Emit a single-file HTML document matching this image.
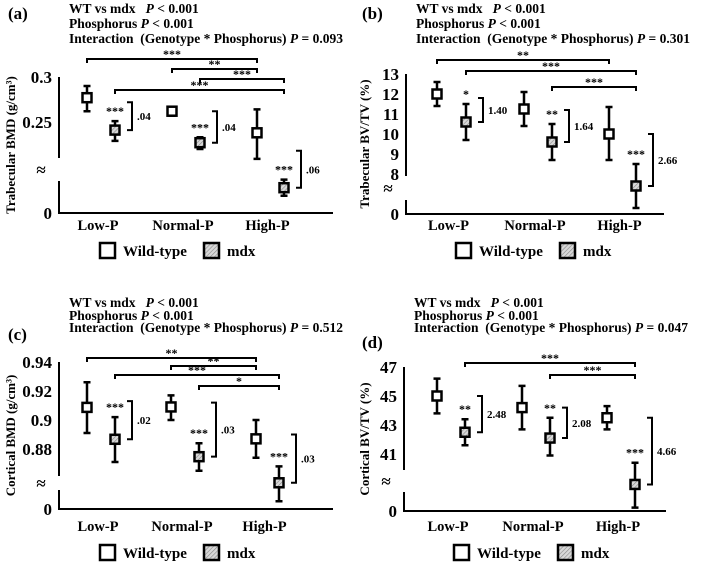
<!DOCTYPE html>
<html><head><meta charset="utf-8"><style>
html,body{margin:0;padding:0;background:#fff;}
svg{display:block;font-family:"Liberation Serif",serif;font-weight:bold;}
text{white-space:pre;}
</style></head><body>
<svg id="fig" width="708" height="565" viewBox="0 0 708 565" xmlns="http://www.w3.org/2000/svg" xml:space="preserve">
<defs>
<pattern id="hatch" patternUnits="userSpaceOnUse" width="3" height="3" patternTransform="rotate(45)">
<rect width="3" height="3" fill="#d8d8d8"/><line x1="0" y1="0" x2="0" y2="3" stroke="#888" stroke-width="1.2"/>
</pattern>
</defs>
</svg>
<script>
// ---- data arrays ----
const categories = ["Low-P","Normal-P","High-P"];
const panelLetters = ["(a)","(b)","(c)","(d)"];
const yTitles = ["Trabecular BMD (g/cm³)","Trabecular BV/TV (%)","Cortical BMD (g/cm³)","Cortical BV/TV (%)"];
const interactionP = ["0.093","0.301","0.512","0.047"];
const tickValuesA = [0.3,0.25]; const tickLabelsA = ["0.3","0.25"];
const tickValuesB = [13,12,11,10,9,8]; const tickLabelsB = ["13","12","11","10","9","8"];
const tickValuesC = [0.94,0.92,0.9,0.88]; const tickLabelsC = ["0.94","0.92","0.9","0.88"];
const tickValuesD = [47,45,43,41]; const tickLabelsD = ["47","45","43","41"];
const wtMeanA=[0.277,0.262,0.238], wtHiA=[0.290,0.267,0.264], wtLoA=[0.262,0.257,0.209];
const mdxMeanA=[0.241,0.227,0.177], mdxHiA=[0.251,0.233,0.186], mdxLoA=[0.229,0.220,0.168];
const wtMeanB=[12.0,11.25,10.0], wtHiB=[12.6,12.1,11.35], wtLoB=[11.4,10.4,8.7];
const mdxMeanB=[10.6,9.6,7.4], mdxHiB=[11.5,10.5,8.5], mdxLoB=[9.7,8.7,6.3];
const wtMeanC=[0.9087,0.909,0.887], wtHiC=[0.926,0.917,0.900], wtLoC=[0.891,0.900,0.874];
const mdxMeanC=[0.8867,0.8747,0.8567], mdxHiC=[0.902,0.884,0.868], mdxLoC=[0.871,0.865,0.844];
const wtMeanD=[45.0,44.2,43.5], wtHiD=[46.2,45.7,44.3], wtLoD=[43.8,42.7,42.7];
const mdxMeanD=[42.5,42.1,38.9], mdxHiD=[43.4,43.5,40.4], mdxLoD=[41.6,40.9,37.3];
const diffA=[".04",".04",".06"], diffB=["1.40","1.64","2.66"], diffC=[".02",".03",".03"], diffD=["2.48","2.08","4.66"];
const starsA=["***","***","***"], starsB=["*","**","***"], starsC=["***","***","***"], starsD=["**","**","***"];
const diffTopA=[0.272,0.262,0.218], diffTopB=[11.8,11.2,10.0], diffTopC=[0.913,0.912,0.890], diffTopD=[45.0,44.2,43.5];
const compA=[[0,0,0,2,"***"],[0,1,0,2,"**"],[1,1,1,2,"***"],[1,0,1,2,"***"]];
const compB=[[0,0,0,2,"**"],[1,0,1,2,"***"],[1,1,1,2,"***"]];
const compC=[[0,0,0,2,"**"],[0,1,0,2,"**"],[1,0,1,2,"***"],[1,1,1,2,"*"]];
const compD=[[1,0,1,2,"***"],[1,1,1,2,"***"]];

const panels=[
 {ox:0,oy:0,axX:59,axY:213,axEnd:333,t0:77,t1:122,brk:[158,181],tv:tickValuesA,tl:tickLabelsA,wx:[87,172,257],mx:[115,200,284],
  wt:[wtMeanA,wtHiA,wtLoA],md:[mdxMeanA,mdxHiA,mdxLoA],diff:diffA,stars:starsA,dtop:diffTopA,comp:compA,compY:[59,69,79,90],
  titleX:69,titleY:[9,24,39],letterY:19,xlabY:230,legY:256},
 {ox:354,oy:0,axX:52,axY:214,axEnd:310,t0:74,t1:94,brk:[176,200],tv:tickValuesB,tl:tickLabelsB,wx:[83,170,255],mx:[112,198,282],
  wt:[wtMeanB,wtHiB,wtLoB],md:[mdxMeanB,mdxHiB,mdxLoB],diff:diffB,stars:starsB,dtop:diffTopB,comp:compB,compY:[60,71,87],
  titleX:62,titleY:[9,24,39],letterY:19,xlabY:230,legY:256},
 {ox:0,oy:280,axX:59,axY:229,axEnd:333,t0:82,t1:111,brk:[196,210],tv:tickValuesC,tl:tickLabelsC,wx:[87,171,256],mx:[115,199,279],
  wt:[wtMeanC,wtHiC,wtLoC],md:[mdxMeanC,mdxHiC,mdxLoC],diff:diffC,stars:starsC,dtop:diffTopC,comp:compC,compY:[78,86,95,106],
  titleX:69,titleY:[23,36,48],letterY:60,xlabY:251,legY:278},
 {ox:354,oy:280,axX:50,axY:231,axEnd:312,t0:87,t1:116,brk:[190,212],tv:tickValuesD,tl:tickLabelsD,wx:[83,168,253],mx:[111,196,281],
  wt:[wtMeanD,wtHiD,wtLoD],md:[mdxMeanD,mdxHiD,mdxLoD],diff:diffD,stars:starsD,dtop:diffTopD,comp:compD,compY:[83,95],
  titleX:60,titleY:[23,36,48],letterY:68,xlabY:251,legY:278}
];
const NS="http://www.w3.org/2000/svg";
const svg=document.getElementById('fig');
function mk(tag,attrs,parent,txt){const e=document.createElementNS(NS,tag);for(const k in attrs)e.setAttribute(k,attrs[k]);if(txt!==undefined)e.textContent=txt;parent.appendChild(e);return e;}
panels.forEach((p,i)=>{
  const g=mk('g',{transform:`translate(${p.ox},${p.oy})`},svg);
  
  
  const v0=p.tv[0],v1=p.tv[1];
  const y=v=>p.t0+(v-v0)*(p.t1-p.t0)/(v1-v0);
  const L=mk('text',{x:8,y:p.letterY,'font-size':17},g,panelLetters[i]);
  
  const lines=["WT vs mdx   ","Phosphorus ","Interaction  (Genotype * Phosphorus) "];
  const ends=["P < 0.001","P < 0.001","P = "+interactionP[i]];
  lines.forEach((s,j)=>{const t=mk('text',{x:p.titleX,y:p.titleY[j]+4,'font-size':13.5},g);
    
    mk('tspan',{},t,s);mk('tspan',{'font-style':'italic'},t,ends[j].slice(0,1));mk('tspan',{},t,ends[j].slice(1));});
  const ax=mk('path',{d:`M${p.axX},${p.t0}V${p.brk[0]}M${p.axX},${p.brk[1]}V${p.axY}H${p.axEnd}`,stroke:'#000','stroke-width':2,fill:'none'},g);
  
  const br=mk('text',{x:p.axX-18,y:(p.brk[0]+p.brk[1])/2+6,'font-size':17,'text-anchor':'middle'},g,'≈');
  
  p.tv.forEach((v,k)=>{const t=mk('text',{x:p.axX-7,y:y(v)+6,'font-size':17,'text-anchor':'end'},g,p.tl[k]);
    });
  const z=mk('text',{x:p.axX-7,y:p.axY+6,'font-size':17,'text-anchor':'end'},g,'0');
  
  const yt=mk('text',{transform:`translate(15,${(p.t0+p.axY)/2}) rotate(-90)`,'font-size':13,'text-anchor':'middle'},g,yTitles[i]);
  
  categories.forEach((c,k)=>{const t=mk('text',{x:(p.wx[k]+p.mx[k])/2-3,y:p.xlabY,'font-size':14.5,'text-anchor':'middle'},g,c);
    });
  [[p.wt,p.wx,'#fff','wild-type'],[p.md,p.mx,'url(#hatch)','mdx']].forEach(([d,xs,fill,nm])=>{
    d[0].forEach((m,k)=>{
      const x=xs[k];
      const eb=mk('path',{d:`M${x},${y(d[1][k])}V${y(d[2][k])}M${x-3.5},${y(d[1][k])}h7M${x-3.5},${y(d[2][k])}h7`,stroke:'#000','stroke-width':2.5,fill:'none'},g);
      
      const r=mk('rect',{x:x-4.5,y:y(m)-4.5,width:9,height:9,fill:fill,stroke:'#000','stroke-width':2.5},g);
      
    });
  });
  p.md[0].forEach((m,k)=>{
    const bx=p.mx[k]+17, yb=y(m), ytp=y(p.dtop[k]);
    const b=mk('path',{d:`M${bx-5},${ytp}H${bx}V${yb}H${bx-5}`,stroke:'#000','stroke-width':2,fill:'none'},g);
    
    const t=mk('text',{x:bx+5,y:(yb+ytp)/2+4,'font-size':11},g,p.diff[k]);
    
    const s=mk('text',{x:p.mx[k],y:y(p.md[1][k])-6,'font-size':12,'text-anchor':'middle'},g,p.stars[k]);
    
  });
  p.comp.forEach((c,j)=>{
    const xa=(c[0]?p.mx:p.wx)[c[1]], xb=(c[2]?p.mx:p.wx)[c[3]], yy=p.compY[j];
    const b=mk('path',{d:`M${xa},${yy+4}V${yy}H${xb}V${yy+4}`,stroke:'#000','stroke-width':2,fill:'none'},g);
    
    const t=mk('text',{x:(xa+xb)/2,y:yy-1,'font-size':12,'text-anchor':'middle'},g,c[4]);
    
  });
  const lx=p.ox?(p.axX+50):100;
  const l1=mk('rect',{x:lx,y:p.legY-13,width:15,height:15,fill:'#fff',stroke:'#000','stroke-width':2.5},g);
  
  const lt1=mk('text',{x:lx+23,y:p.legY,'font-size':15},g,'Wild-type');
  
  const l2=mk('rect',{x:lx+104,y:p.legY-13,width:15,height:15,fill:'url(#hatch)',stroke:'#000','stroke-width':2.5},g);
  
  const lt2=mk('text',{x:lx+127,y:p.legY,'font-size':15},g,'mdx');
  
});
</script>
</body></html>
